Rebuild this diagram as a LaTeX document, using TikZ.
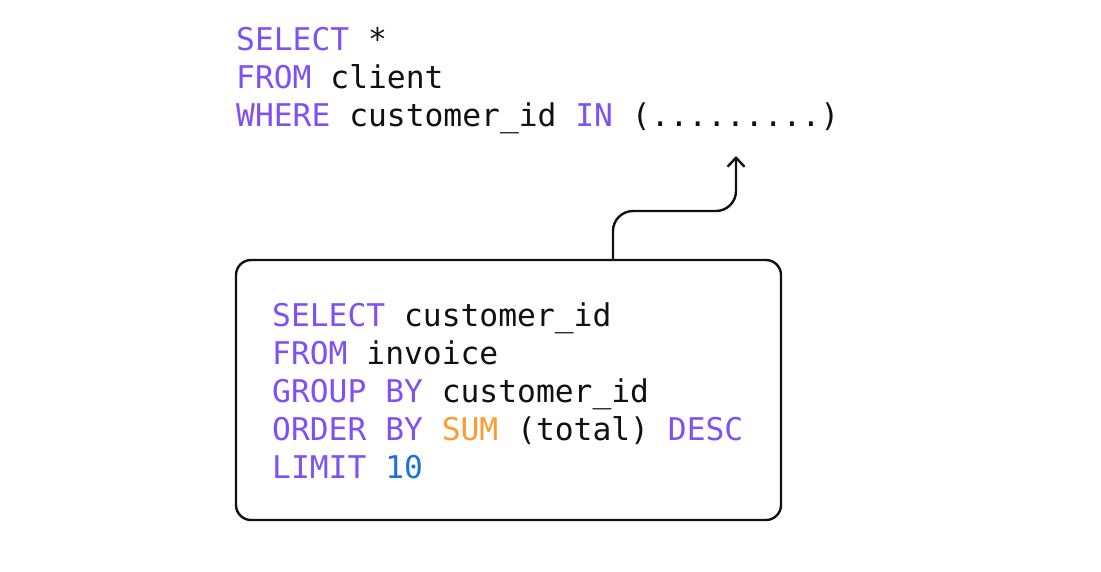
\documentclass[tikz,border=0pt]{standalone}
\usepackage{fontspec}
\usepackage{xcolor}
\usetikzlibrary{arrows.meta,positioning}
\newfontfamily\codefont{DejaVu Sans Mono}
\definecolor{sqlkw}{HTML}{7F50F5}
\definecolor{sqlfn}{HTML}{FF9A2E}
\definecolor{sqlnum}{HTML}{1A73D9}
\definecolor{sqltext}{HTML}{111111}
\newcommand{\sqlkw}[1]{\textcolor{sqlkw}{#1}}
\newcommand{\sqlfn}[1]{\textcolor{sqlfn}{#1}}
\newcommand{\sqlnum}[1]{\textcolor{sqlnum}{#1}}
\tikzset{
    x = 1pt, y = -1pt,
    code/.style = { align=left, inner sep=0pt, anchor=base west,
        text = sqltext,
        font = \codefont\fontsize{31.3}{38}\selectfont
    },
    subbox/.style = { draw = sqltext, line width = 2.4pt, rectangle,
        rounded corners = 15pt,
        minimum width = 545pt,
        minimum height = 260pt
    },
    link/.style = { draw = sqltext, line width = 2.4pt, rounded corners = 20pt,
        -{Straight Barb[length=9pt, width=17pt]}
    }
}
\begin{document}
\begin{tikzpicture}
        \useasboundingbox (0,0) rectangle (1101,571);

        % outer query (base = last line)...
        \node[code] (outer) at (236,126) {\sqlkw{SELECT} *\\
            \sqlkw{FROM} client\\
            \sqlkw{WHERE} customer\_id \sqlkw{IN} (.........)};

        % sub query...
        \node[subbox] (sub) at (508.5,390) {};
        \node[code] (inner) at (272,478) {\sqlkw{SELECT} customer\_id\\
            \sqlkw{FROM} invoice\\
            \sqlkw{GROUP BY} customer\_id\\
            \sqlkw{ORDER BY} \sqlfn{SUM} (total) \sqlkw{DESC}\\
            \sqlkw{LIMIT} \sqlnum{10}};

        % link...
        \coordinate (stem) at (613,260);
        \coordinate (elbow) at (0,211);
        \coordinate (tip) at (736,156);
        \draw[link] (stem) -- (stem |- elbow) -| (tip);

    \end{tikzpicture}
\end{document}
